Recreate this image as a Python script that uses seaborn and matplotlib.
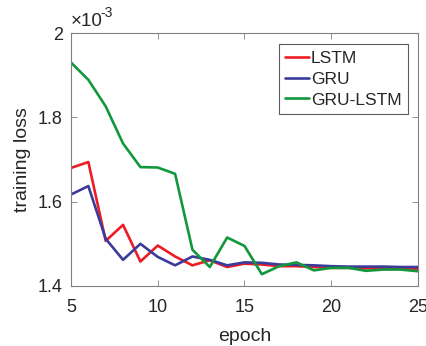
import matplotlib
matplotlib.use("Agg")
import matplotlib.pyplot as plt
import seaborn as sns
import pandas as pd
import numpy as np

epochs = list(range(5, 26))
lstm = [1.680, 1.694, 1.507, 1.545, 1.458, 1.496, 1.470, 1.449, 1.461, 1.445, 1.453,
        1.451, 1.447, 1.447, 1.445, 1.443, 1.443, 1.442, 1.442, 1.441, 1.441]
gru = [1.617, 1.637, 1.512, 1.462, 1.500, 1.469, 1.449, 1.470, 1.462, 1.449, 1.456,
       1.455, 1.451, 1.450, 1.449, 1.447, 1.446, 1.446, 1.446, 1.445, 1.445]
gru_lstm = [1.930, 1.889, 1.826, 1.738, 1.682, 1.681, 1.666, 1.486, 1.445, 1.515, 1.495,
            1.428, 1.447, 1.456, 1.437, 1.443, 1.443, 1.436, 1.439, 1.439, 1.435]
series_names = ["LSTM", "GRU", "GRU-LSTM"]
colors = ["#ee1c24", "#3b3b9b", "#12983c"]
y_ticks = [1.4, 1.6, 1.8, 2.0]
y_tick_labels = ["1.4", "1.6", "1.8", "2"]
x_ticks = [5, 10, 15, 20, 25]

df = pd.DataFrame({
    "epoch": epochs * 3,
    "loss": [v * 1e-3 for v in lstm + gru + gru_lstm],
    "model": [n for n in series_names for _ in epochs],
})

sns.set_theme(style="white")
plt.rcParams["font.family"] = ["Liberation Sans", "DejaVu Sans"]

fig = plt.figure(figsize=(4.27, 3.46), dpi=100)
ax = fig.add_axes([71 / 427, 1 - 286 / 346, (418 - 71) / 427, (286 - 33) / 346])

sns.lineplot(data=df, x="epoch", y="loss", hue="model", hue_order=series_names,
             palette=colors, linewidth=1.9, ax=ax, legend=True)

ax.set_xlim(5, 25)
ax.set_ylim(1.4e-3, 2.0e-3)
ax.set_xticks(x_ticks)
ax.set_xticklabels([str(t) for t in x_ticks])
ax.set_yticks([t * 1e-3 for t in y_ticks])
ax.set_yticklabels(y_tick_labels)

tc = "#262626"
ax.tick_params(direction="in", length=4, width=0.6, colors="#808080",
               labelcolor=tc, labelsize=13, top=True, right=True)
ax.tick_params(axis="x", bottom=True, top=True, pad=9)
ax.tick_params(axis="y", left=True, right=True, pad=6)
for s in ax.spines.values():
    s.set_color("#808080")
    s.set_linewidth(0.8)
    s.set_visible(True)

ax.set_xlabel("epoch", fontsize=14, color=tc, labelpad=9)
ax.set_ylabel("training loss", fontsize=14, color=tc, labelpad=5)

ax.text(0.0, 1.012, "\u00d710", transform=ax.transAxes, fontsize=13.5,
        color=tc, ha="left", va="bottom")
ax.text(0.086, 1.05, "-3", transform=ax.transAxes, fontsize=10,
        color=tc, ha="left", va="bottom")

leg = ax.legend(loc="upper right", bbox_to_anchor=(408 / 427, 1 - 44 / 346),
                bbox_transform=fig.transFigure, fontsize=12.5, frameon=True,
                fancybox=False, edgecolor="#333333", handlelength=1.35,
                handletextpad=0.12, borderpad=0.38, labelspacing=0.33,
                borderaxespad=0)
leg.get_frame().set_linewidth(0.8)
for t in leg.get_texts():
    t.set_color(tc)

fig.savefig("out.png", dpi=100)
